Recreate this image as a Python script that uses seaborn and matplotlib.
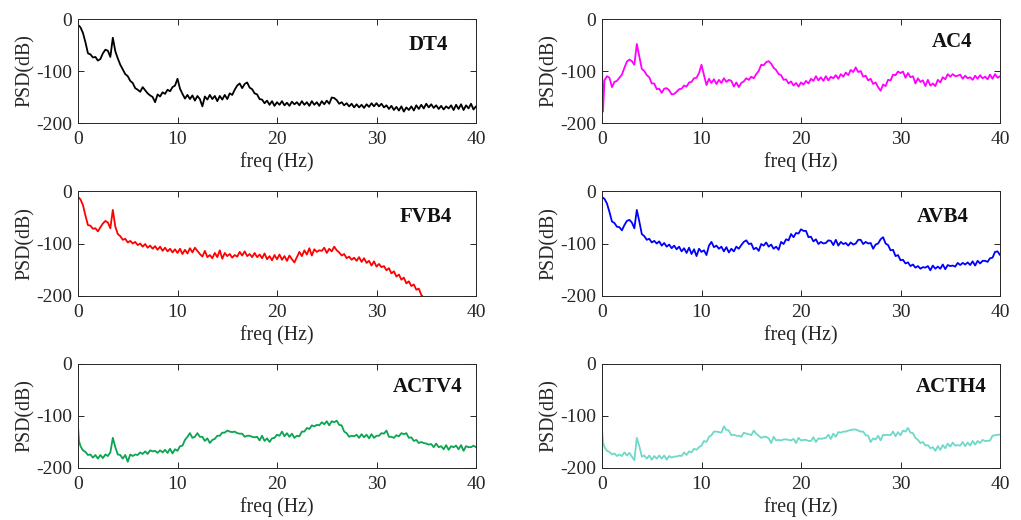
import numpy as np
import pandas as pd
import matplotlib
matplotlib.use("Agg")
import matplotlib.pyplot as plt
import seaborn as sns

# frequency grid (Hz): 0, 0.1, then every 0.25 Hz up to 40
FREQ = np.concatenate([[0.0, 0.1], np.arange(0.25, 40.001, 0.25)])

DT4 = [-12, -13, -16, -27, -45, -66, -68, -74, -73,
       -80, -77, -66, -59, -61, -73, -36, -62,
       -76, -88, -97, -106, -110, -119, -123, -133,
       -136, -140, -131, -137, -143, -147, -150, -160,
       -145, -149, -141, -144, -136, -139, -131, -128,
       -115, -134, -144, -153, -146, -154, -147, -157,
       -148, -154, -168, -149, -155, -146, -154, -148,
       -158, -148, -155, -146, -154, -143, -146, -136,
       -128, -124, -133, -125, -122, -132, -135, -143,
       -145, -154, -155, -162, -157, -165, -158, -167,
       -160, -165, -158, -166, -161, -167, -159, -164,
       -160, -166, -158, -165, -160, -167, -158, -165,
       -160, -167, -158, -164, -157, -163, -151, -152,
       -156, -163, -160, -166, -162, -168, -163, -170,
       -164, -170, -165, -171, -164, -169, -162, -168,
       -162, -168, -163, -170, -166, -173, -167, -175,
       -169, -176, -168, -178, -170, -175, -168, -176,
       -166, -173, -165, -172, -163, -170, -164, -171,
       -166, -173, -167, -174, -168, -172, -166, -175,
       -165, -173, -164, -175, -166, -172, -163, -174,
       -168]

AC4 = [-85, -178, -118, -110, -113, -131, -121, -119, -113,
       -107, -94, -82, -78, -81, -88, -48, -72,
       -96, -100, -108, -112, -124, -124, -135, -134,
       -142, -134, -133, -137, -145, -144, -140, -135,
       -134, -128, -130, -122, -121, -114, -113, -104,
       -88, -108, -127, -115, -123, -116, -125, -117,
       -123, -114, -121, -117, -119, -130, -122, -131,
       -123, -120, -114, -117, -111, -114, -106, -100,
       -88, -89, -83, -81, -86, -94, -98, -106,
       -108, -117, -116, -124, -120, -128, -123, -130,
       -122, -126, -119, -124, -115, -119, -110, -118,
       -112, -119, -110, -118, -111, -114, -108, -115,
       -106, -111, -103, -108, -98, -102, -93, -102,
       -100, -111, -109, -118, -115, -125, -122, -131,
       -138, -126, -129, -117, -118, -107, -108, -101,
       -104, -101, -113, -104, -112, -110, -124, -114,
       -121, -118, -129, -117, -128, -124, -129, -117,
       -122, -112, -116, -106, -111, -106, -110, -109,
       -107, -115, -109, -114, -112, -117, -109, -115,
       -108, -114, -111, -116, -107, -115, -106, -113,
       -110]

FVB4 = [-12, -13, -16, -27, -47, -65, -66, -72, -71,
        -77, -69, -62, -57, -60, -71, -36, -68,
        -82, -86, -93, -91, -98, -95, -100, -97,
        -103, -100, -106, -101, -108, -104, -110, -105,
        -112, -106, -114, -108, -115, -110, -117, -111,
        -118, -110, -120, -112, -119, -109, -117, -108,
        -114, -120, -125, -114, -126, -122, -128, -118,
        -126, -113, -129, -118, -124, -120, -127, -122,
        -125, -116, -123, -115, -124, -120, -126, -118,
        -126, -121, -128, -119, -130, -124, -132, -122,
        -130, -121, -131, -124, -133, -123, -130, -136,
        -126, -116, -124, -113, -121, -109, -123, -111,
        -116, -113, -114, -108, -118, -110, -115, -106,
        -113, -117, -123, -120, -128, -125, -131, -127,
        -133, -126, -135, -128, -137, -133, -142, -134,
        -144, -139, -145, -143, -151, -147, -157, -153,
        -163, -159, -169, -165, -176, -172, -181, -178,
        -188, -186, -198, -203, -210, -215, -220, -225,
        -230, -235, -240, -245, -250, -255, -260, -265,
        -270, -275, -280, -285, -290, -295, -300, -305,
        -310]

AVB4 = [-12, -13, -15, -24, -40, -58, -61, -68, -69,
        -75, -65, -57, -55, -60, -71, -36, -58,
        -82, -86, -93, -91, -98, -95, -100, -96,
        -104, -99, -106, -102, -109, -104, -111, -106,
        -115, -109, -118, -108, -120, -111, -124, -110,
        -116, -113, -122, -104, -97, -107, -104, -110,
        -106, -115, -107, -117, -110, -115, -106, -110,
        -103, -97, -94, -101, -100, -111, -108, -114,
        -101, -104, -98, -106, -102, -110, -106, -112,
        -97, -101, -92, -94, -82, -88, -80, -81,
        -73, -76, -76, -88, -87, -96, -92, -101,
        -97, -100, -99, -94, -95, -103, -93, -104,
        -97, -101, -99, -104, -98, -102, -100, -93,
        -93, -101, -97, -100, -99, -110, -102, -100,
        -92, -88, -100, -103, -113, -112, -124, -122,
        -132, -131, -138, -136, -143, -140, -146, -143,
        -148, -145, -146, -143, -151, -142, -148, -144,
        -148, -140, -149, -141, -143, -142, -144, -137,
        -141, -137, -140, -136, -141, -134, -142, -133,
        -138, -133, -133, -135, -128, -127, -116, -115,
        -122]

ACTV4 = [-120, -148, -158, -166, -169, -175, -174, -180, -175,
         -182, -175, -181, -174, -177, -170, -142, -160,
         -174, -175, -182, -175, -188, -174, -177, -174,
         -175, -170, -173, -168, -173, -166, -168, -167,
         -171, -166, -170, -165, -171, -163, -172, -164,
         -167, -158, -157, -146, -140, -133, -142, -140,
         -133, -140, -140, -148, -143, -152, -146, -144,
         -138, -138, -132, -132, -128, -130, -131, -130,
         -133, -134, -134, -140, -138, -138, -140, -141,
         -140, -147, -138, -148, -143, -150, -143, -142,
         -136, -138, -130, -139, -133, -140, -134, -142,
         -138, -139, -130, -130, -123, -125, -118, -120,
         -117, -118, -112, -116, -110, -118, -110, -112,
         -109, -117, -118, -130, -133, -140, -138, -139,
         -136, -142, -135, -141, -136, -143, -135, -142,
         -138, -138, -133, -134, -128, -140, -140, -142,
         -137, -139, -133, -135, -133, -142, -141, -148,
         -146, -152, -150, -152, -153, -155, -154, -160,
         -153, -160, -158, -164, -156, -165, -158, -160,
         -157, -164, -156, -167, -158, -160, -160, -157,
         -160]

ACTH4 = [-125, -150, -160, -167, -169, -174, -172, -177, -174,
         -177, -170, -176, -171, -178, -185, -142, -158,
         -178, -176, -182, -176, -184, -177, -182, -176,
         -182, -176, -184, -177, -180, -178, -178, -176,
         -177, -170, -175, -168, -170, -163, -165, -160,
         -157, -148, -150, -140, -137, -130, -130, -131,
         -132, -120, -127, -128, -137, -136, -138, -138,
         -140, -132, -134, -135, -137, -128, -134, -138,
         -142, -140, -140, -143, -152, -140, -147, -146,
         -147, -145, -145, -146, -147, -144, -152, -142,
         -147, -146, -146, -148, -148, -141, -150, -143,
         -144, -143, -142, -136, -144, -134, -140, -131,
         -132, -130, -130, -128, -127, -126, -126, -128,
         -130, -130, -137, -138, -150, -143, -145, -138,
         -147, -136, -137, -136, -137, -130, -139, -131,
         -137, -128, -130, -123, -132, -133, -142, -146,
         -152, -150, -157, -156, -162, -160, -167, -158,
         -165, -156, -162, -153, -159, -151, -157, -156,
         -157, -150, -158, -151, -157, -148, -155, -148,
         -152, -146, -148, -148, -147, -138, -137, -136,
         -136]

NAMES = ["DT4", "AC4", "FVB4", "AVB4", "ACTV4", "ACTH4"]
SERIES = [DT4, AC4, FVB4, AVB4, ACTV4, ACTH4]
COLORS = ["#000000", "#FF00FF", "#FF0000", "#0000FF", "#0AA550", "#6ED9C8"]
X_TICKS = [0, 10, 20, 30, 40]
Y_TICKS = [-200, -100, 0]

sns.set_theme(style="ticks")
plt.rcParams["font.family"] = ["Liberation Serif", "DejaVu Serif"]

fig = plt.figure(figsize=(10.21, 5.20), dpi=100)

W, H = 1021.0, 520.0
col_left = [78, 602]
row_top_bot = [(19, 123), (191, 296), (364, 468)]
label_pos = [(0.93, 0.75), (0.93, 0.78), (0.94, 0.75), (0.922, 0.75), (0.967, 0.78), (0.967, 0.78)]

for i, (name, vals, col) in enumerate(zip(NAMES, SERIES, COLORS)):
    r, c = divmod(i, 2)
    top, bot = row_top_bot[r]
    left = col_left[c]
    ax = fig.add_axes([left / W, 1 - bot / H, 398 / W, (bot - top) / H])
    df = pd.DataFrame({"freq": FREQ, "psd": np.asarray(vals, dtype=float)})
    sns.lineplot(data=df, x="freq", y="psd", ax=ax, color=col, linewidth=1.3,
                 errorbar=None, estimator=None, sort=False)
    ax.set_xlim(0, 40)
    ax.set_ylim(-200, 0)
    ax.set_xticks(X_TICKS)
    ax.set_yticks(Y_TICKS)
    ax.set_xticklabels([str(t) for t in X_TICKS])
    ax.set_yticklabels([str(t) for t in Y_TICKS])
    ax.tick_params(direction="in", length=4, width=0.7, top=True, right=True,
                   labelsize=14, colors="#262626")
    ax.tick_params(axis="y", pad=4)
    ax.tick_params(axis="x", pad=6)
    for sp in ax.spines.values():
        sp.set_visible(True)
        sp.set_linewidth(0.7)
        sp.set_color("#262626")
    ax.set_xlabel("freq (Hz)", fontsize=14.3, color="#262626", labelpad=3)
    ax.set_ylabel("PSD(dB)", fontsize=14.3, color="#262626", labelpad=1)
    lx, ly = label_pos[i]
    ax.text(lx, ly, name, transform=ax.transAxes, ha="right", va="center",
            fontsize=15, fontweight="bold", color="#111111")

fig.savefig("out.png", dpi=100)
